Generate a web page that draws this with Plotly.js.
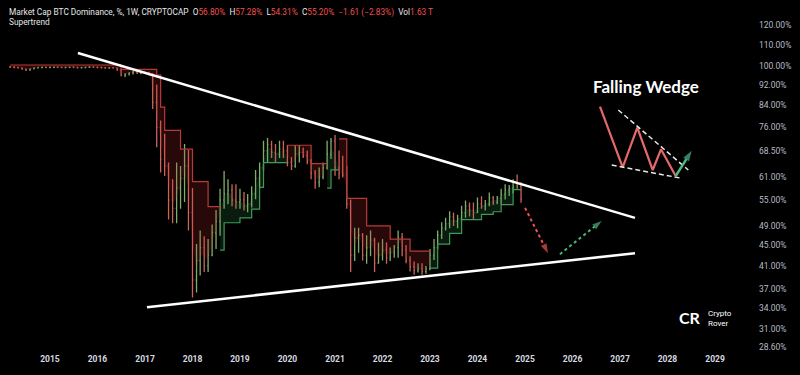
<!DOCTYPE html>
<html><head><meta charset="utf-8">
<script src="https://cdn.plot.ly/plotly-3.0.1.min.js"></script>
<style>html,body{margin:0;padding:0;background:#000;}#chart{width:800px;height:375px;}</style>
</head><body><div id="chart"></div>
<script>
// ---- monthly bars, March 2014 .. December 2024 ----
const startYear = 2014, startMonth = 3, barCount = 130;

const openVals = [
 99.6,99.4,99.3,99.1,98.6,98.2,98.7,99.1,99.3,99.4,
 99.3,99.4,99.5,99.4,99.3,99.4,99.5,99.3,99.2,99.3,99.4,99.6,
 99.4,99.3,99.2,99.0,99.2,99.1,98.2,96.0,96.4,96.9,97.4,96.8,
 97.2,97.0,96.3,85.0,76.0,66.0,64.0,55.0,53.0,58.0,60.5,64.0,
 52.0,38.5,42.0,44.5,41.0,43.0,47.5,50.0,55.0,56.5,57.5,55.0,
 54.5,55.0,53.5,54.0,56.5,60.5,63.5,68.5,70.5,68.0,67.5,69.0,
 68.5,65.0,64.0,67.5,68.0,67.0,65.5,62.0,59.5,61.0,63.5,67.5,
 71.5,63.5,62.0,61.5,54.0,43.0,46.5,47.0,43.0,44.5,46.0,41.5,
 43.0,44.0,42.5,43.5,44.5,46.5,44.0,42.0,40.8,40.2,40.5,40.0,
 40.5,43.0,44.5,47.0,48.5,49.5,51.0,50.0,50.5,52.0,53.5,52.5,
 52.0,54.0,53.5,54.0,55.5,54.5,55.5,56.5,57.5,58.0,59.5,58.5];
const highVals = [
 100.0,99.8,99.6,99.3,98.9,98.9,99.3,99.5,99.6,99.7,
 99.6,99.7,99.8,99.7,99.6,99.7,99.8,99.6,99.5,99.6,99.8,99.9,
 99.7,99.6,99.5,99.4,99.5,99.3,98.4,96.8,97.2,97.8,97.9,97.6,
 97.7,97.4,96.8,92.0,78.4,73.9,65.0,60.3,65.0,64.0,70.6,68.7,
 58.0,45.2,48.0,46.8,46.2,49.3,52.6,57.8,62.6,60.3,59.0,59.0,
 57.8,57.0,56.5,58.5,62.9,65.0,71.6,72.5,71.6,70.6,71.6,71.6,
 70.3,66.6,70.3,70.3,69.5,68.6,66.0,62.9,63.6,65.0,71.6,72.5,
 73.5,68.6,67.0,64.0,55.1,48.6,48.6,47.5,47.0,48.0,46.5,45.5,
 46.2,45.5,44.5,45.0,48.0,47.5,45.0,42.8,41.8,41.5,41.5,41.0,
 44.2,46.2,48.0,49.8,50.8,52.3,52.0,51.5,53.6,54.9,54.4,54.4,
 55.6,55.9,55.0,56.9,56.0,56.0,57.8,59.0,58.8,60.3,61.6,59.5];
const lowVals = [
 99.2,99.0,98.8,98.3,97.8,97.9,98.5,98.9,99.0,99.1,
 99.0,99.1,99.2,99.1,99.0,99.1,99.2,98.9,98.9,99.0,99.1,99.2,
 99.0,98.8,98.7,98.7,98.8,97.9,95.5,95.2,95.8,96.2,96.5,96.3,
 96.6,95.8,82.5,69.6,62.2,61.2,50.4,49.6,49.6,52.9,54.5,48.0,
 35.6,36.4,39.3,39.9,39.9,42.8,44.2,46.9,52.9,54.0,53.5,52.9,
 52.9,52.5,52.1,53.2,55.2,57.8,62.6,65.0,66.3,65.0,66.3,66.3,
 63.9,62.9,63.5,65.0,66.3,64.5,60.3,57.8,58.2,60.3,63.0,66.0,
 61.3,60.3,60.8,52.9,39.9,41.9,43.5,42.0,41.4,42.8,39.9,41.4,
 42.0,41.4,41.9,42.5,42.5,42.8,41.5,40.0,39.4,39.8,39.4,39.6,
 40.2,42.1,44.2,46.2,48.0,48.5,49.0,48.5,50.1,50.8,51.1,50.4,
 51.9,52.9,52.5,53.5,53.8,54.0,54.0,55.1,56.0,56.6,57.8,54.31];
const closeVals = [
 99.4,99.3,99.1,98.6,98.2,98.7,99.1,99.3,99.4,99.3,
 99.4,99.5,99.4,99.3,99.4,99.5,99.3,99.2,99.3,99.4,99.6,99.4,
 99.3,99.2,99.0,99.2,99.1,98.2,96.0,96.4,96.9,97.4,96.8,97.2,
 97.0,96.3,85.0,76.0,66.0,64.0,55.0,53.0,58.0,60.5,64.0,52.0,
 38.5,42.0,44.5,41.0,43.0,47.5,50.0,55.0,56.5,57.5,55.0,54.5,
 55.0,53.5,54.0,56.5,60.5,63.5,68.5,70.5,68.0,67.5,69.0,68.5,
 65.0,64.0,67.5,68.0,67.0,65.5,62.0,59.5,61.0,63.5,67.5,71.5,
 63.5,62.0,61.5,54.0,43.0,46.5,47.0,43.0,44.5,46.0,41.5,43.0,
 44.0,42.5,43.5,44.5,46.5,44.0,42.0,40.8,40.2,40.5,40.0,40.5,
 43.0,44.5,47.0,48.5,49.5,51.0,50.0,50.5,52.0,53.5,52.5,52.0,
 54.0,53.5,54.0,55.5,54.5,55.5,56.5,57.5,58.0,59.5,58.5,55.2];

// Supertrend level and direction (1 = up/green, -1 = down/red)
const stVals = [
 100.4,100.4,100.4,100.4,100.4,100.4,100.4,100.4,100.4,100.4,
 100.4,100.4,100.4,100.4,100.4,100.4,100.4,100.4,100.4,100.4,100.4,100.4,
 100.4,100.4,100.4,100.4,100.4,100.4,98.5,98.5,98.5,98.5,98.5,98.5,
 98.5,98.5,98.5,96.0,83.2,75.0,75.0,75.0,75.0,69.0,69.0,69.0,
 59.7,59.7,59.7,59.7,53.4,53.4,53.4,44.0,49.7,49.7,49.7,49.7,
 50.8,50.8,50.8,52.8,52.8,58.2,65.0,65.0,65.0,65.0,65.0,65.0,
 70.2,70.2,70.2,70.2,70.2,70.2,64.7,64.7,64.7,64.7,58.0,62.9,
 62.9,72.2,72.2,55.4,55.4,55.4,55.4,55.4,49.0,49.0,49.0,49.0,
 49.0,49.0,46.2,46.2,46.2,46.2,46.2,43.8,43.8,43.8,43.8,43.8,
 40.6,40.6,45.2,45.2,45.2,47.4,47.4,47.4,50.4,50.4,50.4,50.4,
 50.4,51.6,51.6,51.6,52.2,52.2,53.9,53.9,53.9,57.6,57.6,57.6];
const stDir = [
 -1,-1,-1,-1,-1,-1,-1,-1,-1,-1,
 -1,-1,-1,-1,-1,-1,-1,-1,-1,-1,-1,-1,
 -1,-1,-1,-1,-1,-1,-1,-1,-1,-1,-1,-1,
 -1,-1,-1,-1,-1,-1,-1,-1,-1,-1,-1,-1,
 -1,-1,-1,-1,-1,-1,-1,1,1,1,1,1,
 1,1,1,1,1,1,1,1,1,1,1,1,
 -1,-1,-1,-1,-1,-1,-1,-1,-1,-1,1,1,
 1,-1,-1,-1,-1,-1,-1,-1,-1,-1,-1,-1,
 -1,-1,-1,-1,-1,-1,-1,-1,-1,-1,-1,-1,
 1,1,1,1,1,1,1,1,1,1,1,1,
 1,1,1,1,1,1,1,1,1,1,1,1];

// Drawn trend lines (wedge) and projection arrows
const upperLineDates = ['2015-08-04', '2027-04-26'];
const upperLineVals  = [105.9, 50.8];
const lowerLineDates = ['2017-01-16', '2027-04-26'];
const lowerLineVals  = [34.1, 43.4];
const downArrowDates = ['2025-01-01', '2025-06-26'];
const downArrowVals  = [53.1, 43.4];
const upArrowDates   = ['2025-09-26', '2026-08-13'];
const upArrowVals    = [43.2, 50.1];

// Axis ticks
const priceTicks = [120, 110, 100, 92, 84, 76, 68.5, 61, 55, 49, 45, 41, 37, 34, 31, 28.6];
const yearTicks = ['2015','2016','2017','2018','2019','2020','2021','2022','2023','2024','2025','2026','2027','2028','2029'];

// Falling wedge pictogram (in overlay pixel space)
const wedgeZigX = [600, 622.7, 637.3, 652.7, 661, 675.7];
const wedgeZigY = [106.7, 167.3, 127.7, 170, 149.3, 176];
const wedgeTopX = [618.3, 688.3], wedgeTopY = [110, 170];
const wedgeBotX = [611.7, 681.7], wedgeBotY = [165, 178.3];
const wedgeArrowX = [675.7, 691.7], wedgeArrowY = [176, 150.7];

// ---- build ----
const dates = [];
for (let i = 0; i <= barCount; i++) {
  const m = startMonth - 1 + i;
  const y = startYear + Math.floor(m / 12);
  const mm = (m % 12) + 1;
  dates.push(y + '-' + (mm < 10 ? '0' : '') + mm + '-01');
}
const barDates = dates.slice(0, barCount);

const RED = '#cf625a', GREEN = '#7fae6c';
const traces = [];

// supertrend segments with fill
let s = 0;
while (s < barCount) {
  let e = s;
  while (e + 1 < barCount && stDir[e + 1] === stDir[s]) e++;
  const xs = barDates.slice(s, e + 1);
  const ys = stVals.slice(s, e + 1);
  const mids = [];
  for (let i = s; i <= e; i++) mids.push((openVals[i] + closeVals[i]) / 2);
  if (e + 1 < barCount) { xs.push(dates[e + 1]); ys.push(stVals[e]); mids.push((openVals[e+1] + closeVals[e+1]) / 2); }
  const up = stDir[s] === 1;
  traces.push({x: xs, y: mids, type: 'scatter', mode: 'lines', line: {width: 0}, hoverinfo: 'skip', showlegend: false});
  traces.push({x: xs, y: ys, type: 'scatter', mode: 'lines', line: {width: 1.2, shape: 'hv', color: up ? '#3f9a55' : '#b83a38'},
    fill: 'tonexty', fillcolor: up ? 'rgba(60,160,90,0.17)' : 'rgba(200,45,45,0.2)', hoverinfo: 'skip', showlegend: false});
  s = e + 1;
}

traces.push({
  type: 'ohlc', x: barDates, open: openVals, high: highVals, low: lowVals, close: closeVals,
  tickwidth: 0.25,
  increasing: {line: {color: GREEN, width: 1.3}},
  decreasing: {line: {color: RED, width: 1.3}},
  hoverinfo: 'skip', showlegend: false
});

traces.push({x: upperLineDates, y: upperLineVals, type: 'scatter', mode: 'lines', line: {color: '#ffffff', width: 2.5}, hoverinfo: 'skip', showlegend: false});
traces.push({x: lowerLineDates, y: lowerLineVals, type: 'scatter', mode: 'lines', line: {color: '#ffffff', width: 2.5}, hoverinfo: 'skip', showlegend: false});
traces.push({x: downArrowDates, y: downArrowVals, type: 'scatter', mode: 'lines+markers',
  line: {color: '#f0524f', width: 2, dash: 'dot'},
  marker: {symbol: ['circle', 'arrow'], size: [0, 10], angleref: 'previous', color: '#f0524f', line: {width: 0}},
  hoverinfo: 'skip', showlegend: false});
traces.push({x: upArrowDates, y: upArrowVals, type: 'scatter', mode: 'lines+markers',
  line: {color: '#4cb27a', width: 2, dash: 'dot'},
  marker: {symbol: ['circle', 'arrow'], size: [0, 10], angleref: 'previous', color: '#4cb27a', line: {width: 0}},
  hoverinfo: 'skip', showlegend: false});

// pictogram
traces.push({x: wedgeZigX, y: wedgeZigY, xaxis: 'x2', yaxis: 'y2', type: 'scatter', mode: 'lines', line: {color: '#e5686a', width: 2.2}, hoverinfo: 'skip', showlegend: false});
traces.push({x: wedgeTopX, y: wedgeTopY, xaxis: 'x2', yaxis: 'y2', type: 'scatter', mode: 'lines', line: {color: '#e8e8e8', width: 1.5, dash: '5px,3px'}, hoverinfo: 'skip', showlegend: false});
traces.push({x: wedgeBotX, y: wedgeBotY, xaxis: 'x2', yaxis: 'y2', type: 'scatter', mode: 'lines', line: {color: '#e8e8e8', width: 1.5, dash: '5px,3px'}, hoverinfo: 'skip', showlegend: false});
traces.push({x: wedgeArrowX, y: wedgeArrowY, xaxis: 'x2', yaxis: 'y2', type: 'scatter', mode: 'lines+markers',
  line: {color: '#4fb585', width: 2.5},
  marker: {symbol: ['circle', 'arrow'], size: [0, 11], angleref: 'previous', color: '#4fb585', line: {width: 0}},
  hoverinfo: 'skip', showlegend: false});

const redSpan = t => '<span style="color:#f0524f">' + t + '</span>';
const header = 'Market Cap BTC Dominance, %, 1W, CRYPTOCAP  O' + redSpan('56.80%') + '  H' + redSpan('57.28%') +
  '  L' + redSpan('54.31%') + '  C' + redSpan('55.20%') + '  ' + redSpan('\u22121.61 (\u22122.83%)') + '  Vol' + redSpan('1.63 T');

const layout = {
  width: 800, height: 375,
  margin: {l: 0, r: 52, t: 0, b: 23},
  paper_bgcolor: '#000000', plot_bgcolor: '#000000',
  font: {family: 'Roboto, sans-serif', color: '#d1d4dc'},
  showlegend: false,
  xaxis: {
    type: 'date', range: ['2013-12-13', '2029-09-11'],
    rangeslider: {visible: false},
    tickvals: yearTicks.map(y => y + '-01-01'), ticktext: yearTicks,
    showgrid: false, zeroline: false, showline: false, ticks: '',
    tickfont: {size: 8.5, color: '#d8dae0', weight: 'bold'},
    fixedrange: true
  },
  yaxis: {
    type: 'log', side: 'right', range: [1.4461, 2.1276],
    tickvals: priceTicks, ticktext: priceTicks.map(v => v.toFixed(2) + '%'),
    showgrid: false, zeroline: false, showline: false, ticks: '',
    ticklabelstandoff: 10,
    tickfont: {size: 8.5, color: '#b8bbc2'},
    fixedrange: true
  },
  xaxis2: {overlaying: 'x', anchor: 'y2', range: [0, 748], visible: false, fixedrange: true},
  yaxis2: {overlaying: 'y', anchor: 'x2', range: [352, 0], visible: false, fixedrange: true},
  annotations: [
    {xref: 'x2', yref: 'y2', x: 7, y: 12, xanchor: 'left', yanchor: 'middle', showarrow: false,
     text: header, font: {size: 8.3, color: '#e6e7ea'}},
    {xref: 'x2', yref: 'y2', x: 7, y: 22, xanchor: 'left', yanchor: 'middle', showarrow: false,
     text: 'Supertrend', font: {size: 8.3, color: '#e6e7ea'}},
    {xref: 'x2', yref: 'y2', x: 646, y: 86, xanchor: 'center', yanchor: 'middle', showarrow: false,
     text: '<b>Falling Wedge</b>', font: {size: 17, color: '#ffffff', family: 'Lato, Roboto, sans-serif', weight: 900}},
    {xref: 'x2', yref: 'y2', x: 690, y: 317.5, xanchor: 'center', yanchor: 'middle', showarrow: false,
     text: '<b>CR</b>', font: {size: 16, color: '#ffffff', family: 'Lato, Roboto, sans-serif', weight: 900}},
    {xref: 'x2', yref: 'y2', x: 706, y: 318, xanchor: 'left', yanchor: 'middle', showarrow: false, align: 'left',
     text: 'Crypto<br>Rover', font: {size: 8, color: '#ffffff'}}
  ]
};

Plotly.newPlot('chart', traces, layout, {displayModeBar: false, staticPlot: true});
</script></body></html>
